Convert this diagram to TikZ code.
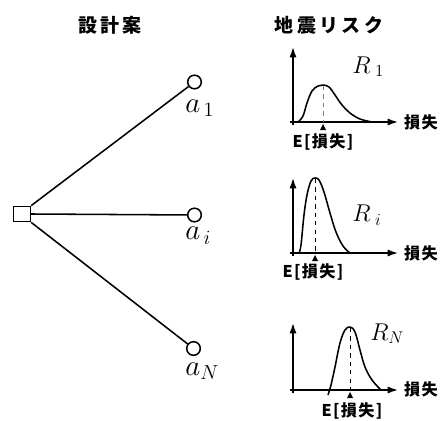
\documentclass[tikz,border=0pt]{standalone}
\usepackage{fontspec}
\usepackage{amsmath}
\usetikzlibrary{arrows.meta,positioning}
\newfontfamily\jpfont{Noto Sans CJK JP}[LetterSpace=8]
\newfontfamily\jptitle{Noto Sans CJK JP}[LetterSpace=18]

\begin{document}
\begin{tikzpicture}[
  x=0.025cm, y=-0.025cm,
  every node/.style={inner sep=0pt},
  axis/.style={-{Latex[length=2.6mm,width=1.8mm]},line width=1.1pt},
  curve/.style={line width=1.1pt,line join=round},
  mean/.style={dashed,thin,dash pattern=on 3pt off 3pt},
  ttl/.style={font=\jptitle\bfseries\fontsize{13.5}{15}\selectfont},
  lbl/.style={font=\jpfont\bfseries\fontsize{11.5}{13}\selectfont},
  sym/.style={anchor=base west,font=\fontsize{20.74}{23}\selectfont},
  rsym/.style={anchor=base west,font=\fontsize{17.28}{20}\selectfont},
  alt/.style={circle,draw,line width=1.1pt,minimum size=0.34cm},
  base/.style={rectangle,draw,line width=1.1pt,minimum width=0.42cm,minimum height=0.38cm}
]
  \useasboundingbox (0,0) rectangle (443,421);

  % design alternatives
  \node[ttl] (ttlA) at (110,25) {設計案};
  \node[base] (orig) at (22,214) {};
  \node[alt] (alt1) at (194.5,82) {};
  \node[alt] (alti) at (194.5,215) {};
  \node[alt] (altN) at (193.5,348.5) {};
  \draw[line width=1.1pt] (orig.north east) -- (alt1);
  \draw[line width=1.1pt] (orig.east) -- (alti);
  \draw[line width=1.1pt] (orig.south east) -- (altN);
  \node[sym] (lab1) at (185,112) {$a_{\,\mathrm{1}}$};
  \node[sym] (labi) at (185,240) {$a_{\,i}$};
  \node[sym] (labN) at (185,375) {$a_{N}$};

  % seismic risk curves
  \node[ttl] (ttlR) at (329,25) {地震リスク};

  \draw[axis] (293,125) -- (293,47);
  \draw[axis] (290,122) -- (398,122);
  \draw[curve] plot[smooth,tension=0.6] coordinates {
    (298,122) (303,116) (307,103) (312,91) (318,86) (323,85)
    (329,87) (335,95) (342,105) (350,113) (360,119) (372,122)};
  \draw[mean,gray] (323,86) -- (323,122);
  \fill (320,130) -- (326,130) -- (323,124) -- cycle;
  \node[lbl] (loss1) at (421,122) {損失};
  \node[lbl] (ex1) at (323,142) {E[損失]};
  \node[rsym] (r1) at (352,73) {$R_{\;\mathrm{1}}$};

  \draw[axis] (293,256) -- (293,178);
  \draw[axis] (290,253) -- (398,253);
  \draw[curve] plot[smooth,tension=0.6] coordinates {
    (299,253) (301,245) (304,215) (307,195) (311,181) (315,178)
    (319,180) (324,192) (330,213) (336,232) (343,246) (350,253)};
  \draw[mean] (315,179) -- (315,253);
  \fill (312,261) -- (318,261) -- (315,255) -- cycle;
  \node[lbl] (loss2) at (421,253) {損失};
  \node[lbl] (ex2) at (313,272) {E[損失]};
  \node[rsym] (ri) at (352,222) {$R_{\;i}$};

  \draw[axis] (293,393) -- (293,323);
  \draw[axis] (290,390) -- (398,390);
  \draw[curve] plot[smooth,tension=0.6] coordinates {
    (328,395) (331,385) (335,367) (340,343) (345,330) (350,327)
    (355,332) (360,350) (365,367) (372,380) (381,390)};
  \draw[mean] (350,328) -- (350,390);
  \fill (347,398) -- (353,398) -- (350,392) -- cycle;
  \node[lbl] (loss3) at (421,389) {損失};
  \node[lbl] (ex3) at (352,411) {E[損失]};
  \node[rsym] (rN) at (370,340) {$R_{N}$};
\end{tikzpicture}
\end{document}
